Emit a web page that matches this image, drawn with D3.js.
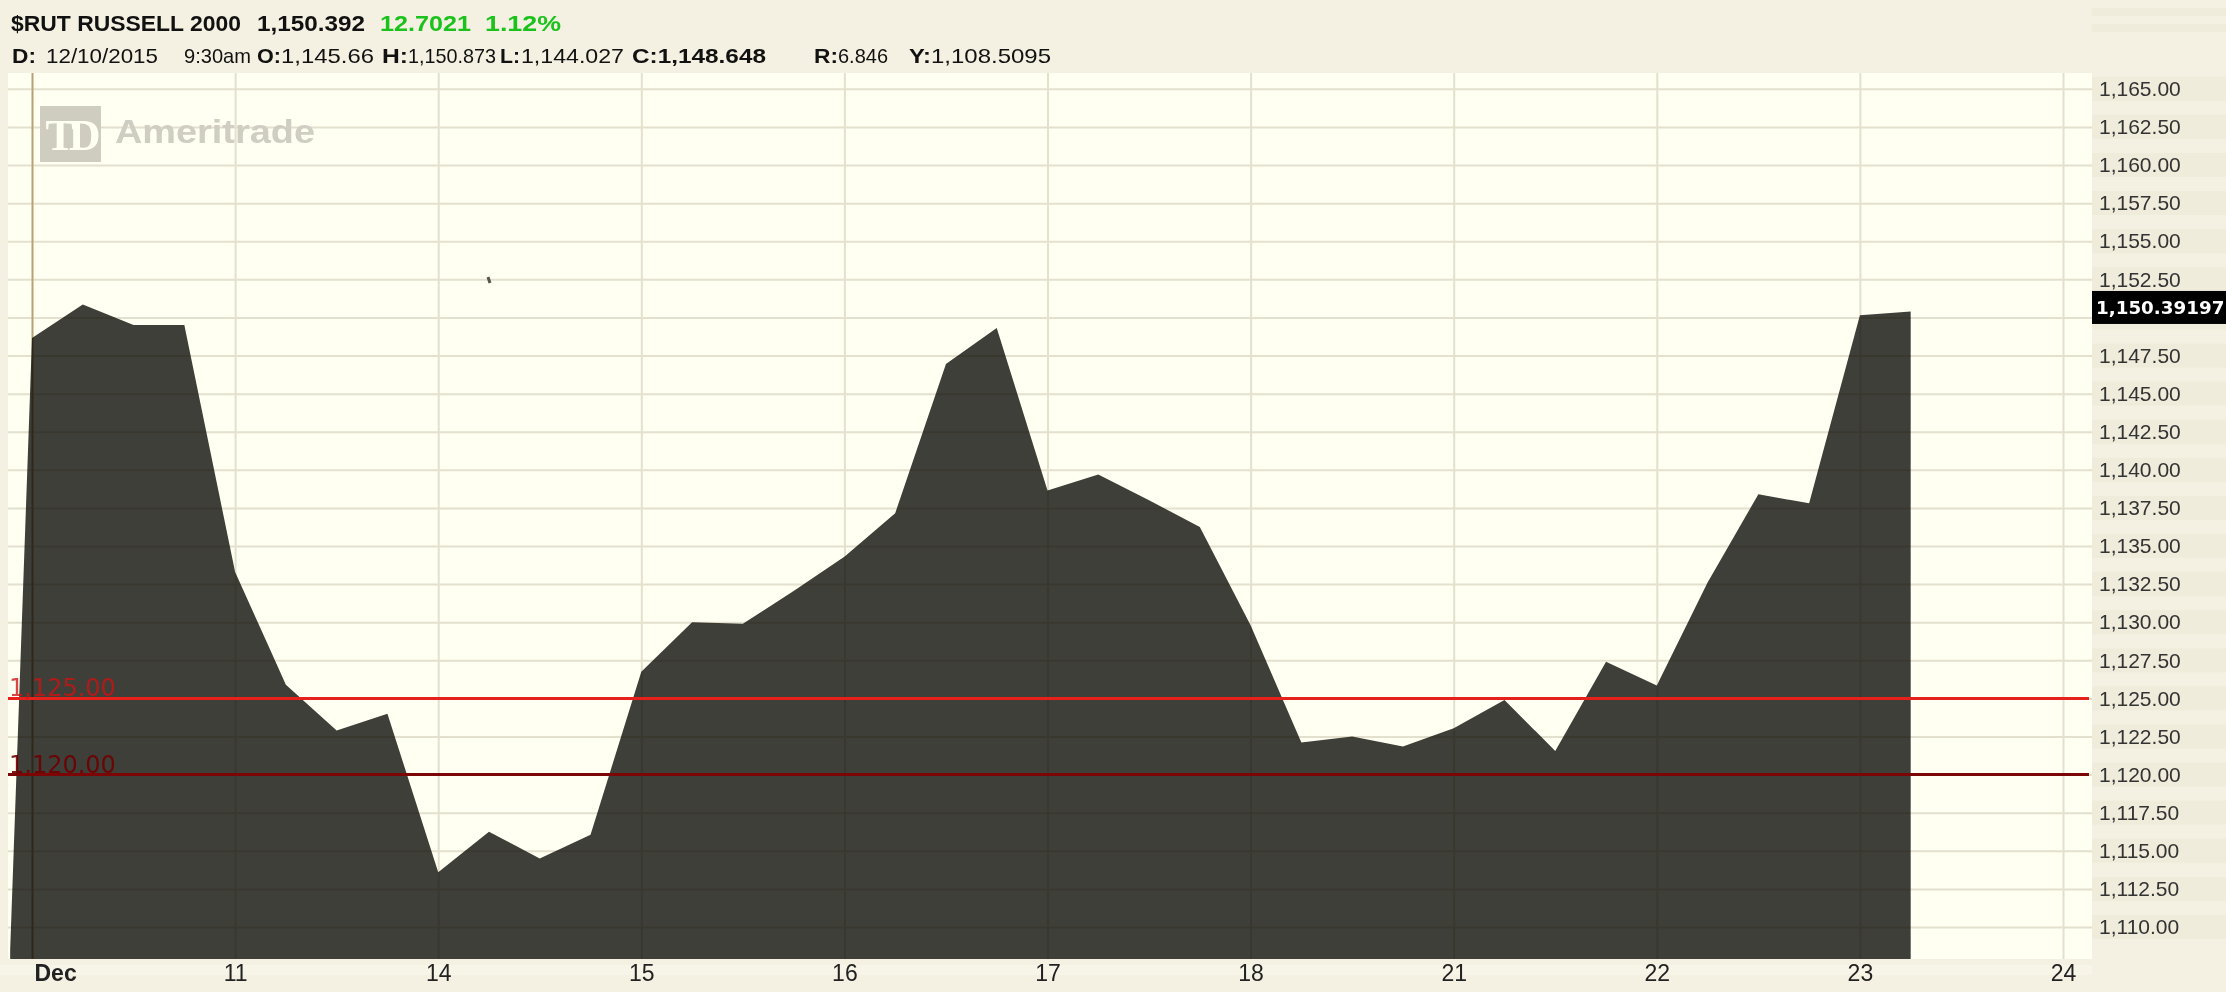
<!DOCTYPE html>
<html>
<head>
<meta charset="utf-8">
<script src="https://cdn.jsdelivr.net/npm/d3@7/dist/d3.min.js"></script>
<style>
  html, body { margin: 0; padding: 0; background: #f4f1e2; }
  svg { display: block; }
</style>
</head>
<body>
<svg id="chart" width="2226" height="992"></svg>
<script>
// ---------------- DATA ----------------
const dayLabels = ["Dec", "11", "14", "15", "16", "17", "18", "21", "22", "23", "24"];
const barsPerDay = 4;
const prevClose = 1108.5095;            // "Y:" value, first point of the area
const prevCloseSlot = -0.43;
const closes = [
  1148.648, 1150.85, 1149.5, 1149.5,     // Dec 10
  1133.3, 1125.9, 1122.9, 1124.0,        // 11
  1113.6, 1116.25, 1114.5, 1116.05,      // 14
  1126.75, 1130.0, 1129.9, 1132.05,      // 15
  1134.3, 1137.15, 1146.95, 1149.3,      // 16
  1138.65, 1139.7, 1138.0, 1136.25,      // 17
  1129.8, 1122.1, 1122.5, 1121.85,       // 18
  1123.05, 1124.9, 1121.55, 1127.4,      // 21
  1125.85, 1132.6, 1138.4, 1137.8,       // 22
  1150.15, 1150.392                      // 23
];
const yTicks = [1110, 1112.5, 1115, 1117.5, 1120, 1122.5, 1125, 1127.5, 1130, 1132.5, 1135,
  1137.5, 1140, 1142.5, 1145, 1147.5, 1150, 1152.5, 1155, 1157.5, 1160, 1162.5, 1165];
const hiddenTickLabels = [1150];         // covered by the last-value box
const levelLines = [
  { value: 1125, label: "1,125.00", stroke: "#e8201c", text: "rgba(205,18,18,0.78)" },
  { value: 1120, label: "1,120.00", stroke: "#7c0505", text: "rgba(110,0,0,0.9)" }
];
const lastValueLabel = "1,150.39197";
const lastValue = 1150.39197;
const marker = { slot: 9.0, value: 1152.45 };

const header1 = [
  { text: "$RUT RUSSELL 2000", x: 11, w: 230, color: "#111" },
  { text: "1,150.392", x: 257, w: 108, color: "#111" },
  { text: "12.7021", x: 380, w: 91, color: "#1cc21c" },
  { text: "1.12%", x: 485, w: 76, color: "#1cc21c" }
];
const header2 = [
  { text: "D:", x: 12, w: 24, bold: true },
  { text: "12/10/2015", x: 46, w: 112, bold: false },
  { text: "9:30am", x: 184, w: 67, bold: false },
  { text: "O:", x: 257, w: 24, bold: true },
  { text: "1,145.66", x: 281, w: 93, bold: false },
  { text: "H:", x: 382, w: 26, bold: true },
  { text: "1,150.873", x: 408, w: 88, bold: false },
  { text: "L:", x: 500, w: 20, bold: true },
  { text: "1,144.027", x: 521, w: 103, bold: false },
  { text: "C:1,148.648", x: 632, w: 134, bold: true },
  { text: "R:", x: 814, w: 24, bold: true },
  { text: "6.846", x: 838, w: 50, bold: false },
  { text: "Y:", x: 909, w: 22, bold: true },
  { text: "1,108.5095", x: 931, w: 120, bold: false }
];

// ---------------- LAYOUT ----------------
const W = 2226, H = 992;
const plot = { left: 8, right: 2092, top: 73, bottom: 959 };

const svg = d3.select("#chart");

const x = d3.scaleLinear().domain([-0.4727, 40.571]).range([plot.left, plot.right]);
const y = d3.scaleLinear().domain([1107.9, 1166.04]).range([plot.bottom, plot.top]);

// background
svg.append("rect").attr("x", 0).attr("y", 0).attr("width", W).attr("height", H).attr("fill", "#f4f1e2");

// axis strip bands
const strip = svg.append("g");
yTicks.forEach(t => {
  strip.append("rect").attr("x", plot.right).attr("width", W - plot.right)
    .attr("y", y(t) - 12).attr("height", 24).attr("fill", "#efecdb");
});
[8, 24].forEach(yy => {
  svg.append("rect").attr("x", plot.right).attr("y", yy).attr("width", W - plot.right)
    .attr("height", 8).attr("fill", "#efecdb");
});
svg.append("rect").attr("x", 0).attr("y", plot.bottom + 6).attr("width", plot.right)
  .attr("height", 10).attr("fill", "#f7f5e8");

// plot background
svg.append("rect").attr("x", plot.left).attr("y", plot.top)
  .attr("width", plot.right - plot.left).attr("height", plot.bottom - plot.top)
  .attr("fill", "#fffff2");

svg.append("clipPath").attr("id", "plotClip").append("rect")
  .attr("x", plot.left).attr("y", plot.top)
  .attr("width", plot.right - plot.left).attr("height", plot.bottom - plot.top);

const plotG = svg.append("g").attr("clip-path", "url(#plotClip)");

// area
const series = [{ slot: prevCloseSlot, value: prevClose }]
  .concat(closes.map((v, i) => ({ slot: i, value: v })));
const area = d3.area()
  .x(d => x(d.slot))
  .y0(plot.bottom)
  .y1(d => y(d.value));
plotG.append("path").datum(series).attr("d", area).attr("fill", "#3f3f3a");

// gridlines (multiply so they darken over the area too)
const dayTicks = dayLabels.map((d, i) => i * barsPerDay);
const gridG = plotG.append("g").style("mix-blend-mode", "multiply");
gridG.append("g")
  .attr("transform", `translate(${plot.left},0)`)
  .call(d3.axisRight(y).tickValues(yTicks).tickSize(plot.right - plot.left).tickFormat(""))
  .call(g => g.select(".domain").remove())
  .call(g => g.selectAll("line").attr("stroke", "#e3e0cd").attr("stroke-width", 2));
gridG.append("g")
  .attr("transform", `translate(0,${plot.top})`)
  .call(d3.axisBottom(x).tickValues(dayTicks).tickSize(plot.bottom - plot.top).tickFormat(""))
  .call(g => g.select(".domain").remove())
  .call(g => g.selectAll("line")
    .attr("stroke", (d, i) => i === 0 ? "#b7a175" : "#e3e0cd")
    .attr("stroke-width", 2));

// small marker
plotG.append("line")
  .attr("x1", x(marker.slot) - 1).attr("y1", y(marker.value) - 3)
  .attr("x2", x(marker.slot) + 1).attr("y2", y(marker.value) + 3)
  .attr("stroke", "#55554c").attr("stroke-width", 3);

// level lines
levelLines.forEach(l => {
  svg.append("line")
    .attr("x1", plot.left).attr("x2", 2089)
    .attr("y1", y(l.value)).attr("y2", y(l.value))
    .attr("stroke", l.stroke).attr("stroke-width", 3);
  svg.append("text")
    .attr("x", 9).attr("y", y(l.value) - 2)
    .attr("font-family", "DejaVu Sans, Verdana, sans-serif")
    .attr("font-size", 24)
    .attr("fill", l.text)
    .text(l.label);
});

// y axis labels
svg.append("g")
  .attr("transform", `translate(${plot.right},0)`)
  .call(d3.axisRight(y).tickValues(yTicks.filter(t => !hiddenTickLabels.includes(t)))
    .tickSize(0).tickPadding(7).tickFormat(d3.format(",.2f")))
  .call(g => g.select(".domain").remove())
  .call(g => g.selectAll("text")
    .attr("font-family", "Liberation Sans, Arial, sans-serif")
    .attr("font-size", 21)
    .attr("fill", "#333"));

// x axis labels
svg.append("g")
  .attr("transform", `translate(0,${plot.bottom})`)
  .call(d3.axisBottom(x).tickValues(dayTicks).tickSize(0).tickPadding(6)
    .tickFormat((d, i) => dayLabels[i]))
  .call(g => g.select(".domain").remove())
  .call(g => g.selectAll("text")
    .attr("font-family", "Liberation Sans Narrow, Liberation Sans, Arial, sans-serif")
    .attr("font-size", 23)
    .attr("fill", "#222")
    .attr("text-anchor", (d, i) => i === 0 ? "start" : "middle")
    .attr("dx", (d, i) => i === 0 ? 2 : 0)
    .attr("font-weight", (d, i) => i === 0 ? "bold" : "normal"));

// last value box
const boxY = y(lastValue) - 4;
svg.append("rect").attr("x", plot.right).attr("y", boxY - 16.5)
  .attr("width", W - plot.right).attr("height", 33).attr("fill", "#000");
svg.append("text").attr("x", plot.right + 4).attr("y", boxY + 7)
  .attr("font-family", "DejaVu Sans, Verdana, sans-serif").attr("font-weight", "bold")
  .attr("font-size", 18.3).attr("fill", "#fff").text(lastValueLabel);

// TD Ameritrade watermark
const wm = svg.append("g");
wm.append("rect").attr("x", 40).attr("y", 106).attr("width", 61).attr("height", 56).attr("fill", "#cfcdc0");
wm.append("text").attr("x", 70).attr("y", 150).attr("text-anchor", "middle")
  .attr("font-family", "Liberation Serif, serif").attr("font-weight", "bold")
  .attr("font-size", 44).attr("fill", "#fffff2").attr("letter-spacing", -6).text("TD");
wm.append("text").attr("x", 115).attr("y", 143)
  .attr("font-family", "Liberation Sans, Arial, sans-serif").attr("font-weight", "bold")
  .attr("font-size", 34).attr("fill", "#d0cec2")
  .attr("textLength", 200).attr("lengthAdjust", "spacingAndGlyphs").text("Ameritrade");

// header
header1.forEach(h => {
  svg.append("text").attr("x", h.x).attr("y", 31)
    .attr("font-family", "Liberation Sans, Arial, sans-serif").attr("font-weight", "bold")
    .attr("font-size", 22).attr("fill", h.color)
    .attr("textLength", h.w).attr("lengthAdjust", "spacingAndGlyphs")
    .text(h.text);
});
header2.forEach(h => {
  svg.append("text").attr("x", h.x).attr("y", 63)
    .attr("font-family", "Liberation Sans, Arial, sans-serif")
    .attr("font-weight", h.bold ? "bold" : "normal")
    .attr("font-size", 21).attr("fill", "#111")
    .attr("textLength", h.w).attr("lengthAdjust", "spacingAndGlyphs")
    .text(h.text);
});
</script>
</body>
</html>
